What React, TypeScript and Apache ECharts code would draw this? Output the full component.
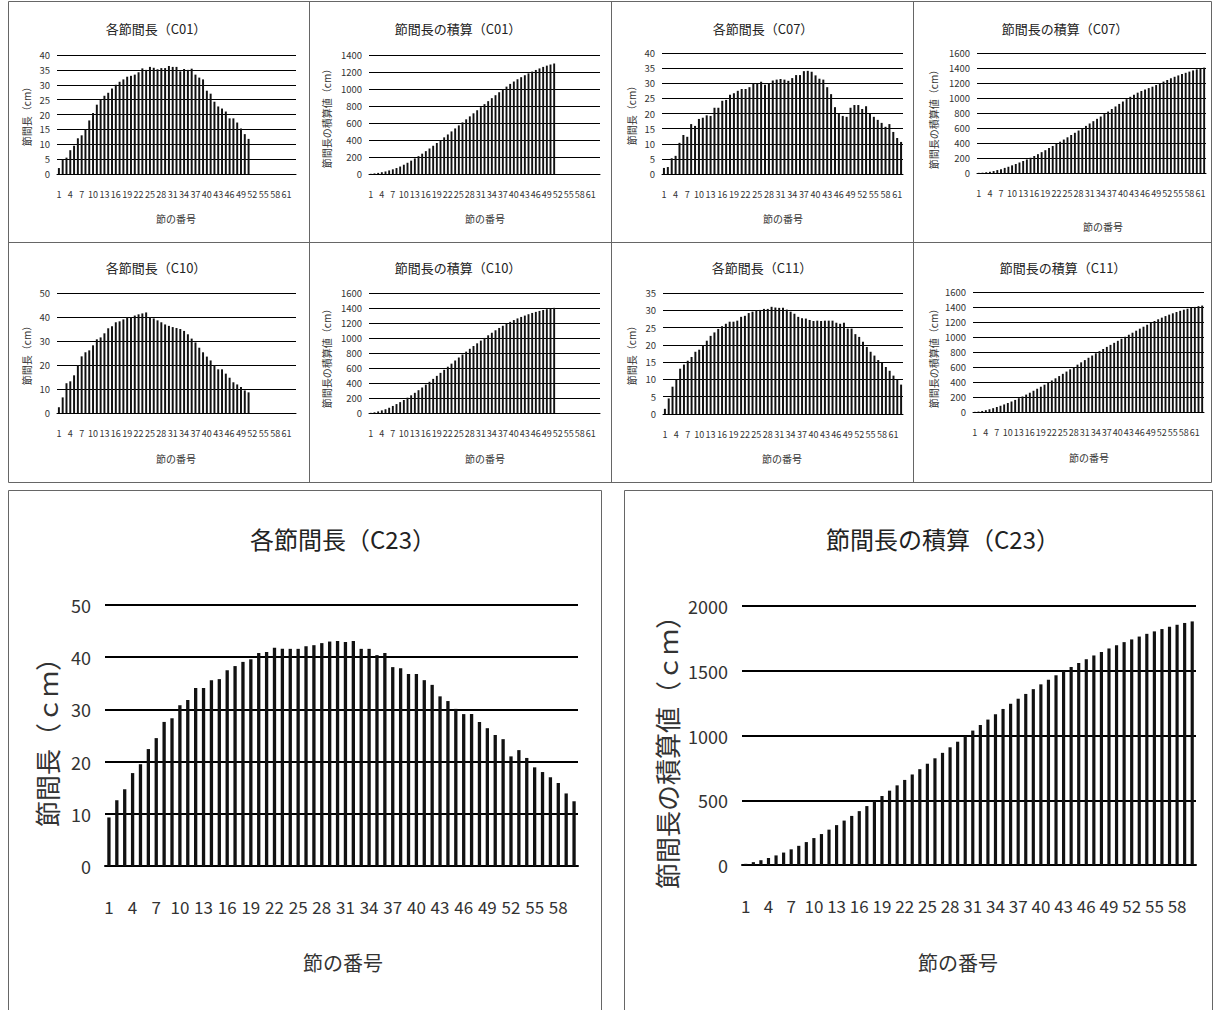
import React, { useEffect, useRef } from "react";
import * as echarts from "echarts";

// 節の番号 (categories)
const nodeNumbers = [
  "1", "2", "3", "4", "5", "6", "7", "8", "9", "10", "11", "12", "13", "14", "15", "16",
  "17", "18", "19", "20", "21", "22", "23", "24", "25", "26", "27", "28", "29", "30", "31",
  "32", "33", "34", "35", "36", "37", "38", "39", "40", "41", "42", "43", "44", "45", "46",
  "47", "48", "49", "50", "51", "52", "53", "54", "55", "56", "57", "58", "59", "60", "61",
  "62", "63",
];

// 各節間長 (cm)
const c01Lengths = [2, 5, 5.5, 8, 9.5, 12, 13, 15, 18, 20.5, 23.3, 25, 26.3, 27.3, 28.7, 30, 31, 31.8, 32.7, 33, 33.4, 34.2, 35.5, 35, 36, 35.7, 35.2, 35.6, 35.6, 36.3, 36, 36, 34.5, 35.3, 35, 35.4, 33.4, 32.4, 31.8, 28, 27, 24.3, 22.7, 22, 21, 18.7, 18.7, 17.3, 15.3, 13.4, 11.8];
const c07Lengths = [2, 2.3, 5.2, 6, 10.3, 12.9, 12.3, 16.5, 15.9, 18.2, 18.6, 19.4, 19.2, 21.9, 21.9, 24.2, 24.5, 26.2, 26.7, 27.5, 28.1, 28.1, 28.7, 29.8, 29.8, 30.5, 29.5, 30, 30.9, 31.2, 31.4, 31.2, 30.8, 31.7, 32.7, 32.7, 34, 34.1, 33.8, 32.6, 31.5, 31.2, 28.7, 26.4, 22.1, 19.9, 19.2, 18.9, 21.9, 22.8, 22.8, 21.5, 22.4, 19.9, 18.9, 17.9, 16.9, 15.6, 16.5, 13.9, 11.9, 10.6];
const c10Lengths = [2.4, 6.5, 12.4, 13.2, 15.7, 20, 23.6, 25.3, 26.1, 28.2, 30.7, 31.5, 33.2, 35.3, 36.1, 37.8, 38.2, 39, 40, 40, 40.6, 41.1, 41.5, 41.9, 40, 39.4, 38.6, 37.8, 36.9, 36.3, 35.8, 35.4, 35, 34.2, 32.8, 31, 29.4, 27.2, 25.3, 23.5, 21.9, 20, 18.2, 18.2, 16.4, 14.7, 12.8, 11.9, 10.8, 9.4, 8.6];
const c11Lengths = [1.5, 4.5, 7.9, 10, 13.1, 14.3, 15.4, 16.5, 18, 18.6, 19.9, 21.2, 22.6, 23.6, 24.6, 25.4, 26.1, 26.7, 26.7, 27, 28.1, 28.4, 29.2, 29.6, 30, 30.1, 30.4, 30.4, 31, 30.8, 30.7, 30.7, 30.2, 29.6, 29, 28.1, 27.7, 27.6, 27.2, 26.9, 27, 26.9, 27, 27, 27, 26.4, 26.1, 26.4, 24.7, 24.7, 23.1, 22.3, 20.9, 19.4, 18, 16.9, 15.6, 14.8, 13.6, 12.5, 11.1, 10, 8.5];
const c23Lengths = [9.3, 12.6, 14.7, 17.8, 19.5, 22.4, 24.5, 27.6, 28.3, 30.8, 31.8, 34.1, 34.1, 35.6, 35.8, 37.5, 38.3, 39.1, 39.6, 40.8, 41, 41.8, 41.6, 41.6, 41.6, 42.1, 42.3, 42.7, 43, 43.1, 42.9, 43.1, 41.6, 41.6, 40.4, 40.8, 38.1, 37.9, 36.8, 36.8, 35.6, 34.7, 32.5, 31.6, 30.1, 29.1, 29.1, 27.6, 26.4, 25.1, 24.3, 21, 22.2, 20.7, 18.9, 18, 17, 15.9, 13.9, 12.4];

// 節間長の積算値 (cm)
const c01Cumulative = [2, 7, 13, 21, 30, 42, 55, 70, 88, 109, 132, 157, 183, 210, 239, 269, 300, 332, 365, 398, 431, 465, 501, 536, 572, 607, 643, 678, 714, 750, 786, 822, 857, 892, 927, 962, 996, 1028, 1060, 1088, 1115, 1139, 1162, 1184, 1205, 1224, 1242, 1260, 1275, 1288, 1300];
const c07Cumulative = [2, 4, 10, 16, 26, 39, 51, 68, 83, 102, 120, 140, 159, 181, 203, 227, 251, 278, 304, 332, 360, 388, 417, 446, 476, 507, 536, 566, 597, 628, 660, 691, 722, 753, 786, 819, 853, 887, 921, 953, 985, 1016, 1045, 1071, 1093, 1113, 1132, 1151, 1173, 1196, 1219, 1240, 1263, 1283, 1301, 1319, 1336, 1352, 1368, 1382, 1394, 1405];
const c10Cumulative = [2, 9, 21, 35, 50, 70, 94, 119, 145, 173, 204, 236, 269, 304, 340, 378, 416, 455, 495, 535, 576, 617, 658, 700, 740, 780, 818, 856, 893, 929, 965, 1001, 1036, 1070, 1103, 1134, 1163, 1190, 1215, 1239, 1261, 1281, 1299, 1317, 1334, 1348, 1361, 1373, 1384, 1393, 1402];
const c11Cumulative = [2, 6, 14, 24, 37, 51, 67, 83, 101, 120, 140, 161, 184, 207, 232, 257, 283, 310, 337, 364, 392, 420, 449, 479, 509, 539, 569, 600, 631, 662, 692, 723, 753, 783, 812, 840, 868, 895, 922, 949, 976, 1003, 1030, 1057, 1084, 1111, 1137, 1163, 1188, 1213, 1236, 1258, 1279, 1298, 1316, 1333, 1349, 1364, 1377, 1390, 1401, 1411, 1419];
const c23Cumulative = [9, 22, 37, 54, 74, 96, 121, 148, 177, 208, 239, 273, 308, 343, 379, 416, 455, 494, 533, 574, 615, 657, 699, 740, 782, 824, 866, 909, 952, 995, 1038, 1081, 1123, 1164, 1205, 1245, 1284, 1321, 1358, 1395, 1431, 1465, 1498, 1529, 1560, 1589, 1618, 1645, 1672, 1697, 1721, 1742, 1764, 1785, 1804, 1822, 1839, 1855, 1869, 1881];

// texts
const titleLen = (id: string) => `各節間長（${id}）`;
const titleCum = (id: string) => `節間長の積算（${id}）`;
const yNameLenSmall = "節間長（cm）";
const yNameCumSmall = "節間長の積算値（cm）";
const yNameLenBig = "節間長（ｃｍ）";
const yNameCumBig = "節間長の積算値（ｃｍ）";
const xName = "節の番号";

const FONT = "'Noto Sans CJK JP', 'Noto Sans', sans-serif";
const TEXT = "#333333";

type Panel = {
  title: string;
  yName: string;
  data: number[];
  n: number;
  max: number;
  interval: number;
  grid: [number, number, number, number];
  titlePos: [number, number];
  yNamePos: [number, number];
  xNamePos: [number, number];
  big?: boolean;
};

const panels: Panel[] = [
  { title: titleLen("C01"), yName: yNameLenSmall, data: c01Lengths, n: 63, max: 40, interval: 5, grid: [57, 55, 239, 119], titlePos: [156, 28], yNamePos: [26, 114], xNamePos: [176, 218] },
  { title: titleCum("C01"), yName: yNameCumSmall, data: c01Cumulative, n: 63, max: 1400, interval: 200, grid: [369, 55, 231, 119], titlePos: [458, 28], yNamePos: [326, 116], xNamePos: [485, 218] },
  { title: titleLen("C07"), yName: yNameLenSmall, data: c07Lengths, n: 62, max: 40, interval: 5, grid: [662, 53, 241, 121], titlePos: [763, 28], yNamePos: [631, 113], xNamePos: [783, 218] },
  { title: titleCum("C07"), yName: yNameCumSmall, data: c07Cumulative, n: 62, max: 1600, interval: 200, grid: [977, 53, 229, 120], titlePos: [1065, 28], yNamePos: [933, 117], xNamePos: [1103, 226] },
  { title: titleLen("C10"), yName: yNameLenSmall, data: c10Lengths, n: 63, max: 50, interval: 10, grid: [57, 293, 239, 120], titlePos: [156, 267], yNamePos: [26, 353], xNamePos: [176, 458] },
  { title: titleCum("C10"), yName: yNameCumSmall, data: c10Cumulative, n: 63, max: 1600, interval: 200, grid: [369, 293, 231, 120], titlePos: [458, 267], yNamePos: [326, 356], xNamePos: [485, 458] },
  { title: titleLen("C11"), yName: yNameLenSmall, data: c11Lengths, n: 63, max: 35, interval: 5, grid: [663, 293, 240, 121], titlePos: [762, 267], yNamePos: [631, 353], xNamePos: [782, 458] },
  { title: titleCum("C11"), yName: yNameCumSmall, data: c11Cumulative, n: 63, max: 1600, interval: 200, grid: [973, 292, 231, 120], titlePos: [1063, 267], yNamePos: [933, 356], xNamePos: [1089, 457] },
  { title: titleLen("C23"), yName: yNameLenBig, data: c23Lengths, n: 60, max: 50, interval: 10, grid: [105, 605, 473, 261], titlePos: [343, 538], yNamePos: [46, 736], xNamePos: [343, 962], big: true },
  { title: titleCum("C23"), yName: yNameCumBig, data: c23Cumulative, n: 60, max: 2000, interval: 500, grid: [742, 606, 454, 259], titlePos: [943, 538], yNamePos: [666, 746], xNamePos: [958, 962], big: true },
];

function buildOption() {
  const graphic: any[] = [];
  const border = { stroke: "#666666", lineWidth: 1, fill: "none" };
  graphic.push({ type: "rect", shape: { x: 8.5, y: 1.5, width: 1203, height: 481 }, style: border, silent: true });
  [309.5, 611.5, 913.5].forEach((x) =>
    graphic.push({ type: "line", shape: { x1: x, y1: 1.5, x2: x, y2: 482.5 }, style: { stroke: "#666666", lineWidth: 1 }, silent: true })
  );
  graphic.push({ type: "line", shape: { x1: 8.5, y1: 242.5, x2: 1211.5, y2: 242.5 }, style: { stroke: "#666666", lineWidth: 1 }, silent: true });
  graphic.push({ type: "rect", shape: { x: 8.5, y: 490.5, width: 593, height: 540 }, style: border, silent: true });
  graphic.push({ type: "rect", shape: { x: 624.5, y: 490.5, width: 588, height: 540 }, style: border, silent: true });

  panels.forEach((p) => {
    const big = !!p.big;
    graphic.push({
      type: "text",
      x: p.titlePos[0],
      y: p.titlePos[1],
      silent: true,
      style: {
        text: p.title,
        fill: "#222222",
        font: `${big ? 24 : 13}px ${FONT}`,
        align: "center",
        verticalAlign: "middle",
        textAlign: "center",
        textVerticalAlign: "middle",
      },
    });
    graphic.push({
      type: "text",
      x: p.xNamePos[0],
      y: p.xNamePos[1],
      silent: true,
      style: {
        text: xName,
        fill: TEXT,
        font: `${big ? 20 : 10}px ${FONT}`,
        align: "center",
        verticalAlign: "middle",
        textAlign: "center",
        textVerticalAlign: "middle",
      },
    });
    graphic.push({
      type: "text",
      x: p.yNamePos[0],
      y: p.yNamePos[1],
      rotation: Math.PI / 2,
      silent: true,
      style: {
        text: p.yName,
        fill: TEXT,
        font: `${big ? 26 : 10}px ${FONT}`,
        align: "center",
        verticalAlign: "middle",
        textAlign: "center",
        textVerticalAlign: "middle",
      },
    });
  });

  return {
    animation: false,
    backgroundColor: "#ffffff",
    grid: panels.map((p) => ({ left: p.grid[0], top: p.grid[1], width: p.grid[2], height: p.grid[3] })),
    xAxis: panels.map((p, i) => ({
      type: "category",
      gridIndex: i,
      data: nodeNumbers.slice(0, p.n),
      boundaryGap: true,
      axisTick: { show: false },
      axisLine: { show: true, lineStyle: { color: "#000000", width: p.big ? 2 : 1 } },
      axisLabel: {
        interval: 2,
        fontSize: p.big ? 17 : 9,
        color: TEXT,
        margin: p.big ? 32 : 16,
        fontFamily: FONT,
      },
    })),
    yAxis: panels.map((p, i) => ({
      type: "value",
      gridIndex: i,
      min: 0,
      max: p.max,
      interval: p.interval,
      axisLine: { show: false },
      axisTick: { show: false },
      splitLine: { show: true, lineStyle: { color: "#000000", width: p.big ? 2 : 1 } },
      axisLabel: {
        fontSize: p.big ? 18 : 9.5,
        color: TEXT,
        margin: p.big ? 14 : 7,
        fontFamily: FONT,
        formatter: (v: number) => String(v),
      },
    })),
    series: panels.map((p, i) => ({
      type: "bar",
      xAxisIndex: i,
      yAxisIndex: i,
      data: p.data,
      barWidth: p.big ? "42%" : "52%",
      itemStyle: { color: "#111111" },
      silent: true,
    })),
    graphic,
  };
}

export default function App() {
  const ref = useRef<HTMLDivElement>(null);
  useEffect(() => {
    if (!ref.current) return;
    const chart = echarts.init(ref.current, undefined, { renderer: "svg" });
    chart.setOption(buildOption() as any);
    return () => chart.dispose();
  }, []);
  return (
    <div
      ref={ref}
      style={{ position: "absolute", left: 0, top: 0, width: 1215, height: 1010, background: "#fff" }}
    />
  );
}
